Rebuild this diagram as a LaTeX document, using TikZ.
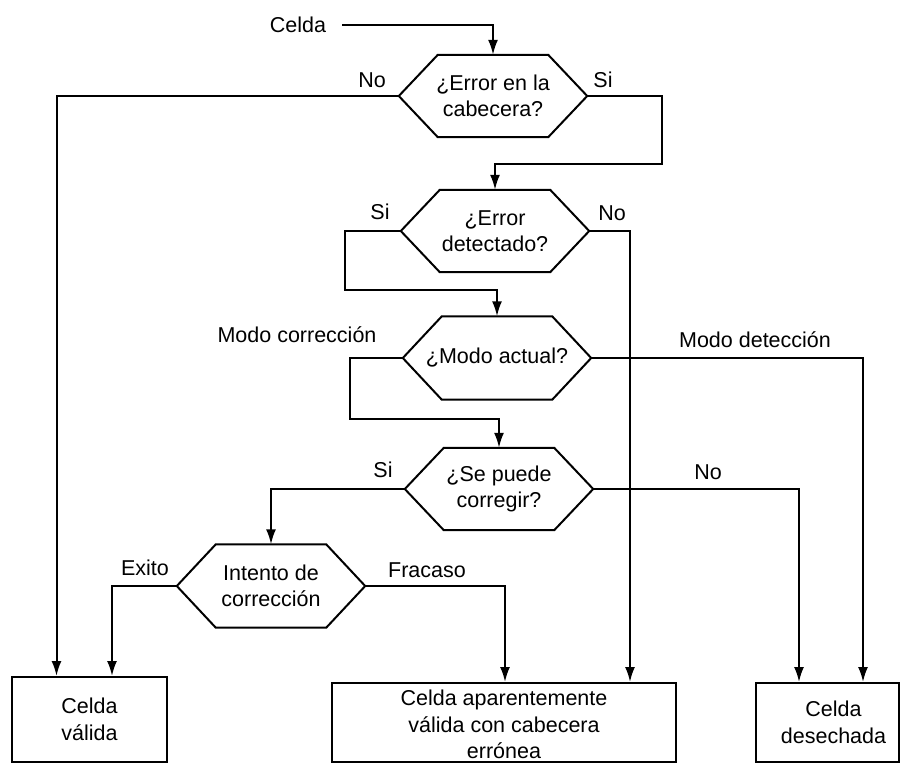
\documentclass[tikz,border=0pt]{standalone}
\usepackage{fontspec}
\setmainfont{Liberation Sans}
\usetikzlibrary{arrows.meta}
\begin{document}
\begin{tikzpicture}[x=1pt,y=-1pt,
  font=\fontsize{21.5}{26.5}\selectfont,
  conn/.style={line width=2pt},
  flow/.style={conn,-{Latex[length=15pt,width=10pt]}},
  hexnode/.style={minimum width=188pt,minimum height=82pt,inner sep=0pt,align=center},
  outbox/.style={draw,line width=2pt,inner sep=0pt,align=center},
  lbl/.style={inner sep=0pt}]
\useasboundingbox (0,0) rectangle (901,764);

% outline of a decision hexagon drawn around a named node
\newcommand\hexoutline[1]{%
  \draw[conn,line join=miter] (#1.west) -- ([xshift=39pt]#1.north west) -- ([xshift=-39pt]#1.north east)
    -- (#1.east) -- ([xshift=-39pt]#1.south east) -- ([xshift=39pt]#1.south west) -- cycle;}

% decisions
\node[hexnode] (h1) at (493,96)  {¿Error en la\\cabecera?};
\node[hexnode] (h2) at (495,231) {¿Error\\detectado?};
\node[hexnode,minimum height=83pt] (h3) at (497,358) {¿Modo actual?};
\node[hexnode] (h4) at (499,489) {¿Se puede\\corregir?};
\node[hexnode,minimum height=83pt] (h5) at (271,586) {Intento de\\corrección};
\foreach \h in {h1,h2,h3,h4,h5} {\hexoutline{\h}}

% outcomes
\node[outbox,minimum width=155pt,minimum height=85pt] (b1) at (89.5,719.5) {Celda\\válida};
\node[outbox,minimum width=344pt,minimum height=79pt] (b2) at (504,722.5) {\rule{0pt}{20pt}Celda aparentemente\\válida con cabecera\\errónea};
\node[outbox,minimum width=143pt,minimum height=79pt] (b3) at (827.5,722.5) {\hspace*{12pt}Celda\\\hspace*{12pt}desechada};

% input
\node[lbl] (in) at (298,25) {Celda};

% bends of the routed connectors
\coordinate (c1) at (662,164);
\coordinate (c2) at (345,290);
\coordinate (c3) at (350,419);

% connectors
\draw[flow] ([xshift=16pt]in.east) -| (h1.north);
\draw[flow] (h1.west) -| ([xshift=-33pt]b1.north);
\draw[flow] (h1.east) -| (c1) -| (h2.north);
\draw[flow] (h2.west) -| (c2) -| (h3.north);
\draw[flow] (h2.east) -| ([xshift=126pt]b2.north);
\draw[flow] (h3.west) -| (c3) -| (h4.north);
\draw[flow] (h3.east) -| ([xshift=35.5pt]b3.north);
\draw[flow] (h4.west) -| (h5.north);
\draw[flow] (h4.east) -| ([xshift=-28.5pt]b3.north);
\draw[flow] (h5.west) -| ([xshift=22.5pt]b1.north);
\draw[flow] (h5.east) -| ([xshift=1pt]b2.north);

% branch labels
\node[lbl] (l1) at (372,80)  {No};
\node[lbl] (l2) at (603,80)  {Si};
\node[lbl] (l3) at (380,212) {Si};
\node[lbl] (l4) at (612,213) {No};
\node[lbl] (l5) at (297,335) {Modo corrección};
\node[lbl] (l6) at (755,340) {Modo detección};
\node[lbl] (l7) at (383,470) {Si};
\node[lbl] (l8) at (708,472) {No};
\node[lbl] (l9) at (145,568) {Exito};
\node[lbl] (l10) at (427,570) {Fracaso};
\end{tikzpicture}
\end{document}
